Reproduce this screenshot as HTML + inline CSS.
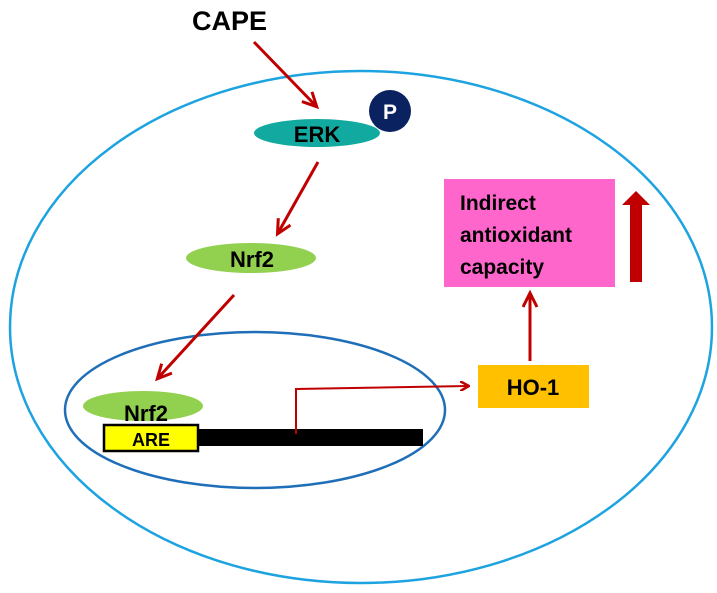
<!DOCTYPE html>
<html><head><meta charset="utf-8"><style>
html,body{margin:0;padding:0;background:#fff;}
svg{display:block;font-family:"Liberation Sans",Arial,sans-serif;font-weight:bold;}
</style></head><body>
<svg width="717" height="593" viewBox="0 0 717 593">
<defs>
<marker id="ah" markerWidth="10" markerHeight="10" refX="8" refY="5" orient="auto" markerUnits="userSpaceOnUse">
<path d="M0,0 L9,5 L0,10" fill="none" stroke="#c00000" stroke-width="2.5"/>
</marker>
<marker id="ah2" markerWidth="20" markerHeight="20" refX="14" refY="8" orient="auto" markerUnits="userSpaceOnUse">
<path d="M1,1 L15,8 L1,15" fill="none" stroke="#c00000" stroke-width="3"/>
</marker>
</defs>
<ellipse cx="361" cy="327" rx="351" ry="256" fill="none" stroke="#1ca3e0" stroke-width="2.5"/>
<ellipse cx="255" cy="410" rx="190" ry="78" fill="none" stroke="#1f6fb8" stroke-width="2.5"/>
<text x="192" y="30" font-size="27" fill="#000">CAPE</text>
<line x1="254" y1="42" x2="316" y2="106" stroke="#c00000" stroke-width="3" marker-end="url(#ah2)"/>
<ellipse cx="317" cy="133" rx="63" ry="14" fill="#12aaa0"/>
<text x="317" y="142" font-size="22" text-anchor="middle" fill="#000">ERK</text>
<circle cx="390" cy="111" r="21" fill="#0b2260"/>
<text x="390" y="119" font-size="21" text-anchor="middle" fill="#fff">P</text>
<line x1="318" y1="162" x2="278" y2="233" stroke="#c00000" stroke-width="3" marker-end="url(#ah2)"/>
<ellipse cx="251" cy="258" rx="65" ry="15" fill="#92d050"/>
<text x="252" y="267" font-size="22" text-anchor="middle" fill="#000">Nrf2</text>
<line x1="234" y1="295" x2="158" y2="378" stroke="#c00000" stroke-width="3" marker-end="url(#ah2)"/>
<ellipse cx="143" cy="406" rx="60" ry="15" fill="#92d050"/>
<rect x="198" y="429" width="225" height="17" fill="#000"/>
<rect x="104" y="425" width="94" height="26" fill="#ffff00" stroke="#000" stroke-width="2.5"/>
<text x="151" y="446" font-size="18" text-anchor="middle" fill="#000">ARE</text>
<text x="146" y="421" font-size="22" text-anchor="middle" fill="#000">Nrf2</text>
<path d="M296,434 L296,389 L468,386" fill="none" stroke="#c00000" stroke-width="2" marker-end="url(#ah)"/>
<rect x="478" y="365" width="111" height="43" fill="#ffc000"/>
<text x="533" y="395" font-size="22" text-anchor="middle" fill="#000">HO-1</text>
<line x1="530" y1="361" x2="530" y2="294" stroke="#c00000" stroke-width="3" marker-end="url(#ah2)"/>
<rect x="444" y="179" width="171" height="108" fill="#ff66cc"/>
<text font-size="21" fill="#000">
<tspan x="460" y="210">Indirect</tspan>
<tspan x="460" y="242">antioxidant</tspan>
<tspan x="460" y="274">capacity</tspan>
</text>
<path d="M630,282 L642,282 L642,205 L650,205 L636,191 L622,205 L630,205 Z" fill="#c00000"/>
</svg>
</body></html>
